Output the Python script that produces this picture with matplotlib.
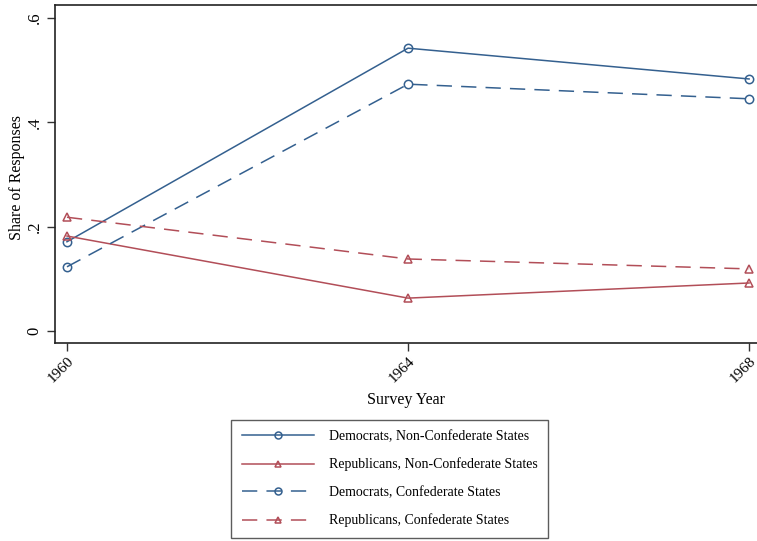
import numpy as np
import matplotlib.pyplot as plt

plt.rcParams['font.family'] = 'Liberation Serif'

years = [1960, 1964, 1968]
dem_nonconf = [0.171, 0.542, 0.483]
rep_nonconf = [0.182, 0.063, 0.092]
dem_conf = [0.123, 0.473, 0.445]
rep_conf = [0.218, 0.138, 0.119]

blue = '#34608f'
red = '#b24e58'

fig = plt.figure(figsize=(7.57, 5.41), dpi=100)
ax = fig.add_axes([0.0727, 0.366, 0.927, 0.625])

mk = dict(markersize=6, markerfacecolor='none', markeredgewidth=1.1, linewidth=1.1)
dash = (0, (10, 6))
ax.plot(years, dem_nonconf, color=blue, marker='o', linestyle='-',
        label='Democrats, Non-Confederate States', **mk)
ax.plot(years, rep_nonconf, color=red, marker='^', linestyle='-',
        label='Republicans, Non-Confederate States', **mk)
ax.plot(years, dem_conf, color=blue, marker='o', linestyle=dash,
        label='Democrats, Confederate States', **mk)
ax.plot(years, rep_conf, color=red, marker='^', linestyle=dash,
        label='Republicans, Confederate States', **mk)

ax.set_xlim(1959.86, 1968.09)
ax.set_ylim(-0.023, 0.625)
ax.set_xticks(years)
ax.set_xticklabels([str(y) for y in years], rotation=45, ha='right', va='top',
                   rotation_mode='anchor', fontsize=11)
ax.set_yticks([0, 0.2, 0.4, 0.6])
ax.set_yticklabels(['0', '.2', '.4', '.6'], rotation=90, va='center', fontsize=12)
ax.tick_params(length=6, width=1, color='#333333')
ax.tick_params(axis='x', pad=2)
ax.tick_params(axis='y', pad=3)
ax.spines['right'].set_visible(False)
for s in ['left', 'bottom', 'top']:
    ax.spines[s].set_linewidth(1.2)
    ax.spines[s].set_color('#222222')

ax.set_xlabel('Survey Year', fontsize=11.5)
ax.xaxis.set_label_coords(0.5, -0.145)
ax.set_ylabel('Share of Responses', fontsize=11.5)
ax.yaxis.set_label_coords(-0.043, 0.49)

leg = fig.legend(loc='center', bbox_to_anchor=(0.515, 0.115), ncol=1,
                 frameon=True, fancybox=False, fontsize=10, handlelength=5.2,
                 borderpad=0.75, labelspacing=1.05, handletextpad=1.1,
                 borderaxespad=0)
leg.get_frame().set_edgecolor('#333333')
leg.get_frame().set_linewidth(1.0)
for h in leg.legend_handles:
    h.set_markersize(5)

fig.savefig('out.png', dpi=100)
